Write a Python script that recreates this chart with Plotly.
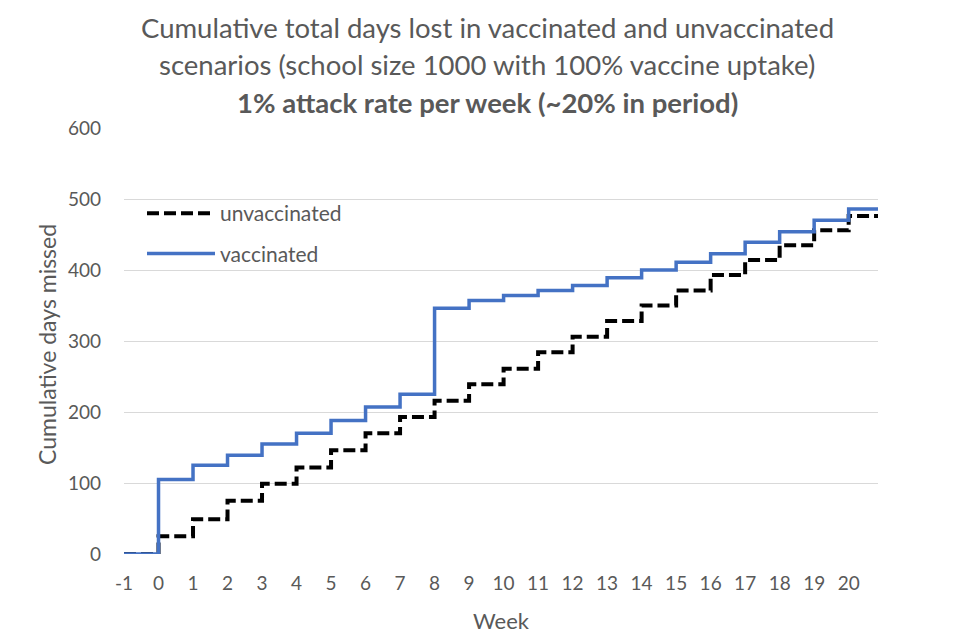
import plotly.graph_objects as go

weeks = list(range(-1, 22))
vaccinated = [0, 105, 125, 139, 155, 170, 188, 207, 225, 346, 357, 364, 371, 378,
              389, 400, 411, 423, 439, 454, 470, 486, 486]
unvaccinated = [0, 25, 49, 75, 99, 122, 146, 170, 193, 216, 239, 261, 284, 306,
                328, 350, 371, 393, 414, 435, 456, 476, 476]
x_ticks = list(range(-1, 21))
y_ticks = [0, 100, 200, 300, 400, 500, 600]

title_lines = ["Cumulative total days lost in vaccinated and unvaccinated",
               "scenarios (school size 1000 with 100% vaccine uptake)",
               "<b>1% attack rate per week (~20% in period)</b>"]
x_title = "Week"
y_title = "Cumulative days missed"

FONT = "Lato"
GREY = "#595959"

# page has an 8px body margin; work in screen pixels and offset
OFF = 8
W, H = 960 - OFF, 640 - OFF
L, T = 124 - OFF, 128 - OFF
R = W - (878 - OFF)
B = H - (554 - OFF)
PH = H - T - B
PW = W - L - R


def py(pix):
    return (H - B - (pix - OFF)) / PH


def px(pix):
    return (pix - OFF - L) / PW


fig = go.Figure()
fig.add_trace(go.Scatter(x=weeks, y=unvaccinated, name="unvaccinated", mode="lines",
                         legendgroup="u",
                         line=dict(color="black", width=4, dash="12px,5px", shape="hv")))
fig.add_trace(go.Scatter(x=weeks, y=vaccinated, name="vaccinated", mode="lines",
                         legendgroup="v",
                         line=dict(color="#4472C4", width=3.5, shape="hv")))

annotations = []
for txt, yc in zip(title_lines, [27, 65, 102]):
    annotations.append(dict(text=txt, x=px(487), y=py(yc), xref="paper", yref="paper",
                            xanchor="center", yanchor="middle", showarrow=False,
                            font=dict(size=27.5, color=GREY, family=FONT)))
annotations.append(dict(text=x_title, x=px(501), y=py(620), xref="paper", yref="paper",
                        xanchor="center", yanchor="middle", showarrow=False,
                        font=dict(size=22, color=GREY, family=FONT)))
annotations.append(dict(text=y_title, x=px(47), y=py(345), xref="paper", yref="paper",
                        xanchor="center", yanchor="middle", showarrow=False, textangle=-90,
                        font=dict(size=23, color=GREY, family=FONT)))

fig.update_layout(
    width=W, height=H,
    margin=dict(l=L, r=R, t=T, b=B, autoexpand=False),
    paper_bgcolor="white", plot_bgcolor="white",
    font=dict(family=FONT, color=GREY, size=19),
    showlegend=True,
    legend=dict(x=px(142), y=py(193), xanchor="left", yanchor="top",
                bgcolor="rgba(0,0,0,0)", font=dict(size=21, color=GREY),
                tracegroupgap=10, itemwidth=68),
    annotations=annotations,
    xaxis=dict(range=[-1, 20.85], tickmode="array", tickvals=x_ticks,
               ticktext=[str(t) for t in x_ticks], showgrid=False, zeroline=False,
               showline=False, ticks="", ticklabelstandoff=16, automargin=False,
               tickfont=dict(size=19, color=GREY)),
    yaxis=dict(range=[0, 600], tickmode="array", tickvals=y_ticks, showgrid=True,
               gridcolor="#D9D9D9", gridwidth=1.3, zeroline=False, showline=False,
               ticks="", ticklabelstandoff=22, automargin=False,
               tickfont=dict(size=19, color=GREY)),
)

fig.write_html("out.html")
